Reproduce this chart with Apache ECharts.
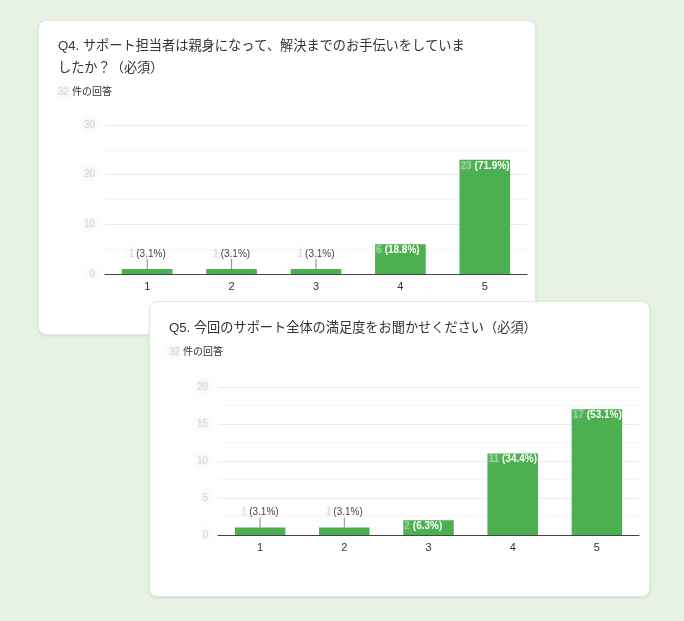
<!DOCTYPE html>
<html>
<head>
<meta charset="utf-8">
<script src="https://cdn.jsdelivr.net/npm/echarts@6/dist/echarts.min.js"></script>
<style>
  html, body { margin: 0; padding: 0; }
  body { width: 684px; height: 621px; background: #e7f2e5; position: relative; overflow: hidden; }
  .card {
    position: absolute; background: #fff; border-radius: 8px;
    border: 1px solid #e2e8e1; box-shadow: 0 1px 3px rgba(0,0,0,0.10);
    box-sizing: border-box;
  }
  #card1 { left: 38px; top: 20px; width: 498px; height: 315px; }
  #card2 { left: 149px; top: 301px; width: 501px; height: 296px; }
  .chart { width: 100%; height: 100%; }
</style>
</head>
<body>
<div class="card" id="card1"><div class="chart" id="q4"></div></div>
<div class="card" id="card2"><div class="chart" id="q5"></div></div>
<script>
// 選択肢（1〜5）
const categories = ['1', '2', '3', '4', '5'];

// Q4
const q4Title = 'Q4. サポート担当者は親身になって、解決までのお手伝いをしていま\nしたか？（必須）';
const q4Values = [1, 1, 1, 6, 23];
const q4Percents = ['3.1%', '3.1%', '3.1%', '18.8%', '71.9%'];
const q4Total = 32;

// Q5
const q5Title = 'Q5. 今回のサポート全体の満足度をお聞かせください（必須）';
const q5Values = [1, 1, 2, 11, 17];
const q5Percents = ['3.1%', '3.1%', '6.3%', '34.4%', '53.1%'];
const q5Total = 32;

const FONT = '"Liberation Sans", Arial, "Noto Sans CJK JP", sans-serif';
const GREEN = '#4caf50';

// ぼかした数字（件数は伏せてある）
const blurDark = { color: 'rgba(185,185,185,0.55)', textShadowColor: 'rgba(150,150,150,1)', textShadowBlur: 6, fontSize: 10 };
const blurLight = { color: 'rgba(255,255,255,0.4)', textShadowColor: 'rgba(255,255,255,1)', textShadowBlur: 6, fontSize: 10, fontWeight: 'bold' };

function barData(values, percents) {
  return values.map((v, i) => {
    if (v > 1) {
      // 棒の中、左上に白文字
      return {
        value: v,
        label: {
          position: 'insideTopLeft',
          distance: 1,
          formatter: '{n|' + v + '}{t|(' + percents[i] + ')}',
          rich: {
            n: blurLight,
            t: { color: '#fff', fontWeight: 'bold', fontSize: 10, fontFamily: FONT, padding: [0, 0, 0, 3] }
          }
        }
      };
    }
    // 棒の上にラベル + 引き出し線
    return {
      value: v,
      label: {
        position: 'top',
        distance: 0,
        align: 'center',
        formatter: '{n|' + v + '}{t|(' + percents[i] + ')}\n{l|}',
        rich: {
          n: blurDark,
          t: { color: '#444', fontSize: 10, fontFamily: FONT, padding: [0, 0, 0, 2] },
          l: { width: 1, height: 10, backgroundColor: '#888' }
        }
      }
    };
  });
}

function makeOption(title, total, values, percents, max, interval, grid, titleTop, subTop) {
  return {
    animation: false,
    textStyle: { fontFamily: FONT },
    title: [
      {
        text: title,
        left: 14,
        top: titleTop,
        textStyle: { fontSize: 13.2, fontWeight: 'normal', color: '#333', lineHeight: 22, fontFamily: FONT }
      },
      {
        text: '{n|' + total + '} 件の回答',
        left: 14,
        top: subTop,
        textStyle: {
          fontSize: 10, fontWeight: 'normal', color: '#333', fontFamily: FONT,
          rich: { n: blurDark }
        }
      }
    ],
    grid: grid,
    xAxis: {
      type: 'category',
      data: categories,
      axisLine: { lineStyle: { color: '#444', width: 1 } },
      axisTick: { show: false },
      axisLabel: { color: '#333', fontSize: 11, margin: 7 }
    },
    yAxis: {
      type: 'value',
      min: 0,
      max: max,
      interval: interval,
      axisLine: { show: false },
      axisTick: { show: false },
      axisLabel: Object.assign({ margin: 10 }, blurDark),
      splitLine: { lineStyle: { color: '#ebebeb' } },
      minorTick: { show: false, splitNumber: 2 },
      minorSplitLine: { show: true, lineStyle: { color: '#f7f7f7' } }
    },
    series: [{
      type: 'bar',
      data: barData(values, percents),
      barCategoryGap: '40%',
      itemStyle: { color: GREEN },
      label: { show: true }
    }]
  };
}

echarts.init(document.getElementById('q4')).setOption(
  makeOption(q4Title, q4Total, q4Values, q4Percents, 30, 10,
    { left: 66, right: 8, top: 104, bottom: 60 }, 9, 61)
);
echarts.init(document.getElementById('q5')).setOption(
  makeOption(q5Title, q5Total, q5Values, q5Percents, 20, 5,
    { left: 68, right: 10, top: 85, bottom: 61 }, 10, 40)
);
</script>
</body>
</html>
